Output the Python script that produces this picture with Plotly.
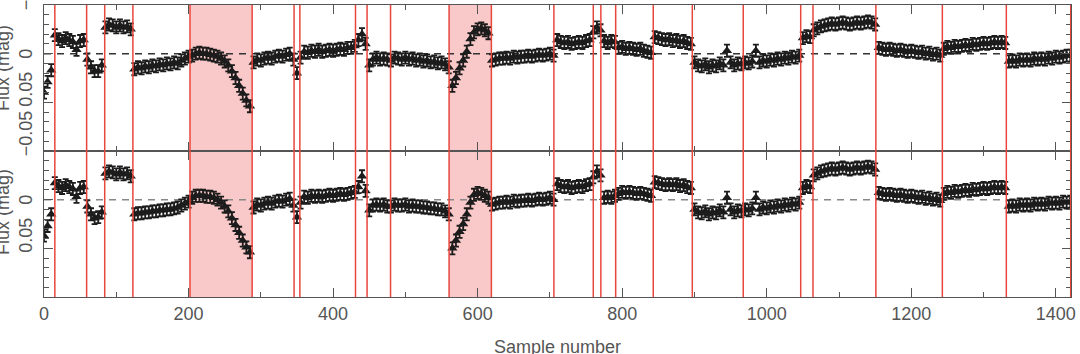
import plotly.graph_objects as go

# ---- data ----
sample_step = 5
samples = list(range(0, 1421, sample_step))

flux_top = [
    0.040, 0.029, 0.017,
    -0.019, -0.015, -0.013, -0.016, -0.014, -0.012, -0.004, -0.013, -0.014,
    0.006, 0.014, 0.018, 0.018, 0.012,
    -0.027, -0.030, -0.029, -0.027, -0.029, -0.027, -0.028, -0.025,
    0.016, 0.014, 0.015, 0.013, 0.014, 0.012, 0.013, 0.011, 0.012, 0.010, 0.011, 0.009, 0.010, 0.007, 0.005, 0.003,
    0.002, 0.000, -0.001, 0.000, 0.000, 0.001, 0.002, 0.003, 0.005, 0.008, 0.012, 0.018, 0.025, 0.033, 0.041, 0.048, 0.054,
    0.009, 0.006, 0.007, 0.005, 0.004, 0.005, 0.003, 0.002, 0.003, 0.001, 0.000, 0.006,
    0.020,
    0.004, -0.002, -0.001, -0.003, -0.002, -0.004, -0.002, -0.003, -0.004, -0.003, -0.004, -0.005, -0.004, -0.006, -0.006, -0.008,
    -0.014, -0.020, -0.010,
    0.012, 0.006, 0.004, 0.006, 0.005, 0.006,
    0.007, 0.004, 0.005, 0.006, 0.004, 0.006, 0.005, 0.007, 0.006, 0.008, 0.007, 0.009, 0.008, 0.010, 0.009, 0.011, 0.014,
    0.033, 0.025, 0.015, 0.007, -0.002, -0.015, -0.022, -0.025, -0.026, -0.024, -0.021,
    0.007, 0.006, 0.005, 0.005, 0.004, 0.005, 0.003, 0.004, 0.003, 0.003, 0.002, 0.003, 0.002, 0.001, 0.002, 0.001, 0.000, 0.002,
    -0.014, -0.012, -0.011, -0.012, -0.010, -0.011, -0.012, -0.011, -0.013, -0.014,
    -0.022, -0.027, -0.024,
    -0.013, -0.011, -0.013, -0.012,
    -0.006, -0.007, -0.005, -0.006, -0.005, -0.004, -0.005, -0.003, -0.002, -0.001,
    -0.017, -0.016, -0.015, -0.014, -0.015, -0.013, -0.014, -0.012, -0.013, -0.011, -0.010,
    0.009, 0.012, 0.013, 0.011, 0.014, 0.012, 0.013, 0.010, 0.012, -0.003, 0.009, 0.012, 0.010, 0.011,
    0.009, 0.010, 0.008, -0.003, 0.009, 0.007, 0.008, 0.006, 0.007, 0.005, 0.006, 0.004, 0.005, 0.003, 0.004, 0.002,
    -0.016, -0.018, -0.017,
    -0.024, -0.026, -0.028, -0.029, -0.030, -0.031, -0.030, -0.031, -0.032, -0.031, -0.030, -0.031, -0.032, -0.031, -0.032, -0.033, -0.032, -0.030,
    -0.006, -0.005, -0.004, -0.005, -0.004, -0.003, -0.004, -0.003, -0.002, -0.003, -0.002, -0.001, -0.002, 0.000, -0.001, 0.001, 0.000, 0.002,
    -0.005, -0.007, -0.006, -0.008, -0.007, -0.008, -0.009, -0.008, -0.010, -0.009, -0.010, -0.011, -0.010, -0.011, -0.012, -0.011, -0.012, -0.011,
    0.008, 0.007, 0.008, 0.006, 0.007, 0.006, 0.007, 0.005, 0.006, 0.005, 0.006, 0.004, 0.005, 0.003, 0.004, 0.003, 0.002, 0.002,
]

flux_bottom = [
    0.037, 0.027, 0.015,
    -0.017, -0.014, -0.012, -0.015, -0.013, -0.011, -0.003, -0.012, -0.013,
    0.007, 0.015, 0.019, 0.018, 0.013,
    -0.027, -0.029, -0.028, -0.026, -0.028, -0.026, -0.027, -0.024,
    0.015, 0.014, 0.014, 0.013, 0.013, 0.012, 0.012, 0.011, 0.011, 0.010, 0.010, 0.009, 0.008, 0.006, 0.004, 0.002,
    -0.002, -0.004, -0.004, -0.004, -0.003, -0.003, -0.002, 0.000, 0.003, 0.007, 0.012, 0.019, 0.026, 0.034, 0.042, 0.049, 0.054,
    0.008, 0.005, 0.006, 0.004, 0.003, 0.004, 0.002, 0.001, 0.002, 0.000, -0.001, 0.006,
    0.018,
    0.003, -0.003, -0.002, -0.004, -0.003, -0.004, -0.003, -0.004, -0.005, -0.004, -0.005, -0.006, -0.005, -0.006, -0.007, -0.008,
    -0.013, -0.024, -0.009,
    0.011, 0.006, 0.005, 0.006, 0.005, 0.007,
    0.007, 0.005, 0.006, 0.006, 0.005, 0.007, 0.006, 0.007, 0.007, 0.008, 0.008, 0.009, 0.009, 0.010, 0.010, 0.012, 0.015,
    0.050, 0.042, 0.033, 0.025, 0.015, 0.003, -0.005, -0.007, -0.006, -0.004, -0.002,
    0.005, 0.004, 0.003, 0.003, 0.002, 0.003, 0.001, 0.002, 0.001, 0.001, 0.000, 0.001, 0.000, -0.001, 0.000, -0.001, -0.002, 0.000,
    -0.016, -0.014, -0.013, -0.014, -0.012, -0.013, -0.014, -0.013, -0.015, -0.016,
    -0.023, -0.029, -0.025,
    -0.002, -0.003, -0.002, -0.004,
    -0.006, -0.008, -0.007, -0.008, -0.007, -0.006, -0.007, -0.006, -0.005, -0.004,
    -0.018, -0.017, -0.016, -0.015, -0.016, -0.015, -0.016, -0.014, -0.015, -0.013, -0.012,
    0.010, 0.013, 0.014, 0.012, 0.015, 0.013, 0.014, 0.011, 0.013, -0.002, 0.010, 0.013, 0.011, 0.012,
    0.010, 0.011, 0.009, -0.002, 0.010, 0.008, 0.009, 0.007, 0.008, 0.006, 0.007, 0.005, 0.006, 0.004, 0.005, 0.003,
    -0.012, -0.014, -0.013,
    -0.025, -0.027, -0.029, -0.030, -0.031, -0.032, -0.031, -0.032, -0.033, -0.032, -0.031, -0.032, -0.033, -0.032, -0.033, -0.034, -0.033, -0.031,
    -0.007, -0.006, -0.005, -0.006, -0.005, -0.004, -0.005, -0.004, -0.003, -0.004, -0.003, -0.002, -0.003, -0.001, -0.002, 0.000, -0.001, 0.001,
    -0.006, -0.008, -0.007, -0.009, -0.008, -0.009, -0.010, -0.009, -0.011, -0.010, -0.011, -0.012, -0.011, -0.012, -0.013, -0.012, -0.013, -0.012,
    0.007, 0.006, 0.007, 0.005, 0.006, 0.005, 0.006, 0.004, 0.005, 0.004, 0.005, 0.003, 0.004, 0.003, 0.004, 0.002, 0.003, 0.002,
]

flux_error = 0.0062

boundaries = [15, 59, 84, 123, 202, 288, 346, 354, 431, 447, 479.5, 560.5, 619,
              705.5, 760, 770.5, 791, 843, 897, 967.5, 1047, 1064, 1151, 1243,
              1331.5, 1420.6]
shaded_ranges = [(202, 288), (560.5, 619)]

x_ticks = [0, 200, 400, 600, 800, 1000, 1200, 1400]
x_minor = [100, 300, 500, 700, 900, 1100, 1300]
y_ticks = [-0.05, 0, 0.05]
y_ticktext = ["\u22120.05", "0", "0.05"]
y_minor = [-0.04, -0.03, -0.02, -0.01, 0.01, 0.02, 0.03, 0.04, 0.06, 0.07, 0.08, 0.09]
y_range = [0.1, -0.05]
x_max = 1421

# ---- styling ----
FONT = "Liberation Sans"
FS = 18
TXT = "#555555"
AX = "#555555"
RED = "#e8463c"
PINK = "#f9c8c8"
PT = "#1c1c1c"
PLOT_W = 1027
PLOT_H = 292
CHAR_W = {".": 0.278, "\u2212": 0.584}
DOMAINS = {"y": [0.5, 1.0], "y2": [0.0, 0.5]}


def text_px(s):
    return sum(CHAR_W.get(c, 0.556) for c in s) * FS


def paper_y(yname, val):
    d0, d1 = DOMAINS[yname]
    frac = (y_range[0] - val) / (y_range[0] - y_range[1])
    return d0 + frac * (d1 - d0)


fig = go.Figure()

for flux, xa, ya in [(flux_top, "x", "y"), (flux_bottom, "x2", "y2")]:
    fig.add_trace(go.Scatter(
        x=samples, y=flux, xaxis=xa, yaxis=ya, mode="markers",
        marker=dict(symbol="triangle-up", size=9, color=PT),
        error_y=dict(type="constant", value=flux_error, color=PT, thickness=1.8, width=3),
        showlegend=False, hoverinfo="skip",
    ))

shapes = []
for xr, yr, dash_col in [("x", "y", "#333333"), ("x2", "y2", "#888888")]:
    for a, b in shaded_ranges:
        shapes.append(dict(type="rect", xref=xr, yref=yr + " domain", x0=a, x1=b, y0=0, y1=1,
                           fillcolor=PINK, line=dict(width=0), layer="below"))
    shapes.append(dict(type="line", xref=xr, yref=yr, x0=0, x1=x_max, y0=0, y1=0,
                       line=dict(color=dash_col, width=1.5, dash="7px,6px"), layer="below"))
    for bx in boundaries:
        shapes.append(dict(type="line", xref=xr, yref=yr + " domain", x0=bx, x1=bx, y0=0, y1=1,
                           line=dict(color=RED, width=1.5), layer="above"))

xcommon = dict(range=[0, x_max], tickvals=x_ticks, ticks="inside", ticklen=9, tickwidth=1.2,
               tickcolor=AX, showline=True, linecolor=AX, linewidth=1.2, mirror="ticks",
               showgrid=False, zeroline=False, automargin=False,
               minor=dict(tickvals=x_minor, ticks="inside", ticklen=5, tickcolor=AX, tickwidth=1.2),
               tickfont=dict(family=FONT, size=FS, color=TXT))
ycommon = dict(range=y_range, tickvals=y_ticks, ticktext=y_ticktext, ticks="inside",
               ticklen=9, tickwidth=1.2, tickcolor=AX, showline=True, linecolor=AX,
               linewidth=1.2, mirror="ticks", showgrid=False, zeroline=False,
               automargin=False, showticklabels=False,
               minor=dict(tickvals=y_minor, ticks="inside", ticklen=5, tickcolor=AX, tickwidth=1.2))

annotations = []
# y tick labels: rotated text whose start sits ~5 px below each tick and runs upward
for yname in ["y", "y2"]:
    for val, txt in zip(y_ticks, y_ticktext):
        annotations.append(dict(
            text=txt, xref="paper", yref="paper", x=(26 - 44) / PLOT_W, y=paper_y(yname, val),
            xanchor="center", yanchor="middle", yshift=text_px(txt) / 2 - 5, textangle=-90,
            showarrow=False, borderpad=0, font=dict(family=FONT, size=FS, color=TXT)))

for ypos in [0.784, 0.291]:
    annotations.append(dict(text="Flux (mag)", xref="paper", yref="paper", x=-41 / PLOT_W, y=ypos,
                            xanchor="center", yanchor="middle", textangle=-90, showarrow=False,
                            font=dict(family=FONT, size=FS, color=TXT)))
annotations.append(dict(text="Sample number", xref="paper", yref="paper", x=0.5, y=-50 / PLOT_H,
                        xanchor="center", yanchor="middle", showarrow=False,
                        font=dict(family=FONT, size=FS, color=TXT)))

fig.update_layout(
    width=1080, height=354,
    margin=dict(l=44, r=9, t=5, b=57, autoexpand=False),
    paper_bgcolor="white", plot_bgcolor="white",
    xaxis=dict(**xcommon, domain=[0, 1], anchor="y", showticklabels=False),
    yaxis=dict(**ycommon, domain=DOMAINS["y"], anchor="x"),
    xaxis2=dict(**xcommon, domain=[0, 1], anchor="y2", showticklabels=True),
    yaxis2=dict(**ycommon, domain=DOMAINS["y2"], anchor="x2"),
    shapes=shapes,
    annotations=annotations,
)

fig.write_html("out.html")
